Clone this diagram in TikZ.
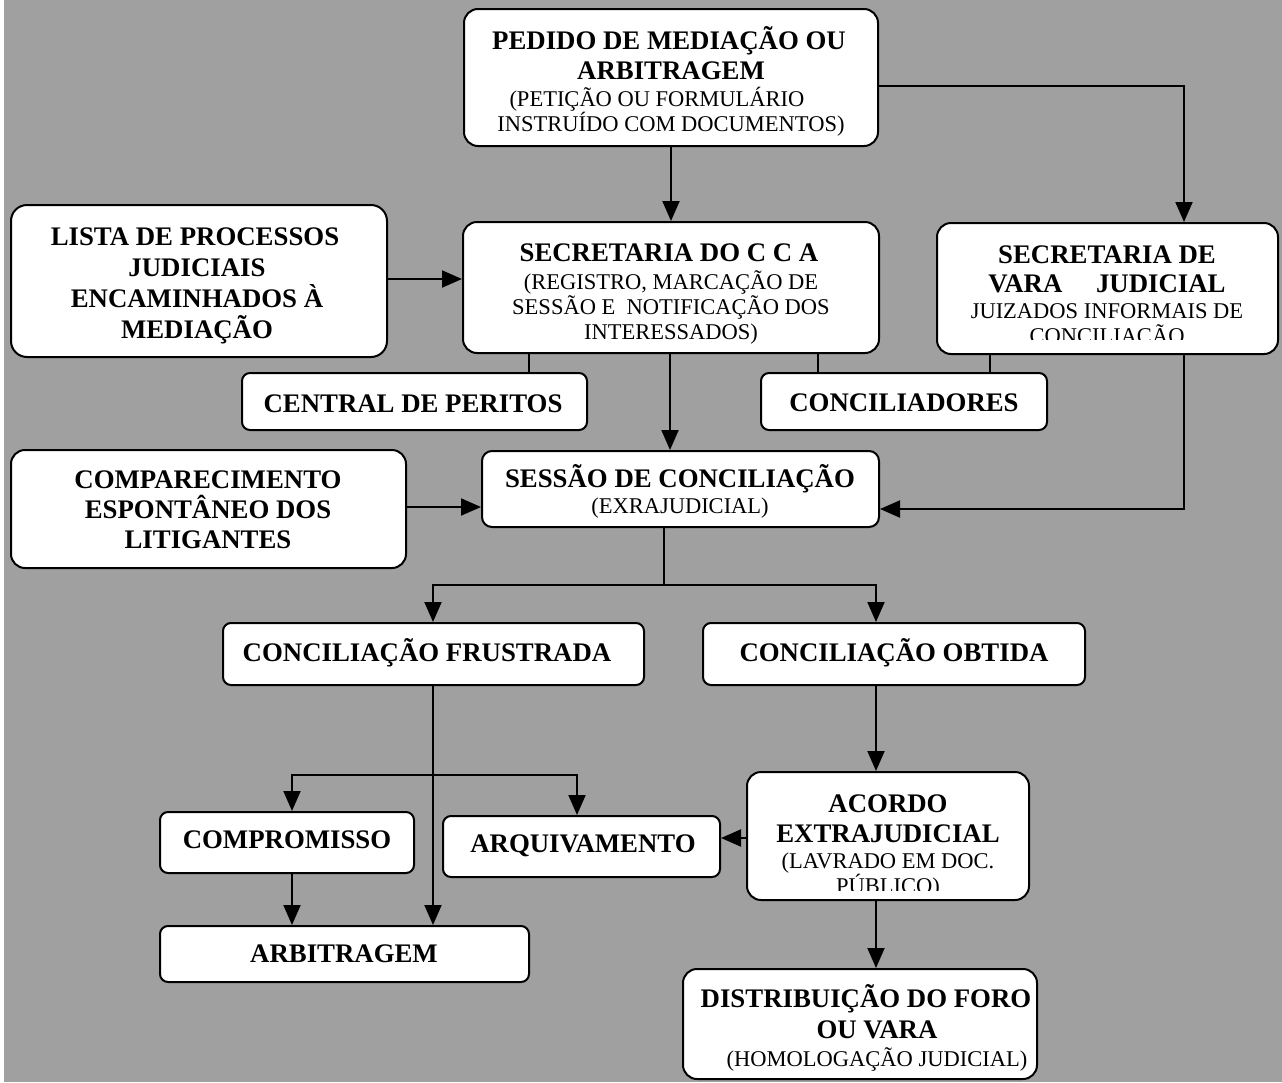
\documentclass[tikz,border=0pt]{standalone}
\usepackage{fontspec}
\setmainfont{Liberation Serif}
\usetikzlibrary{arrows.meta}
\definecolor{bggray}{RGB}{160,160,160}
\begin{document}
\begin{tikzpicture}[x=1pt,y=-1pt,
  box/.style={draw=black, line width=2pt, fill=white, rectangle, inner sep=0pt},
  tb/.style={anchor=base, inner sep=0pt, font=\fontsize{26.8}{31}\selectfont\bfseries},
  tn/.style={anchor=base, inner sep=0pt, font=\fontsize{22.5}{25.5}\selectfont},
  ln/.style={draw=black, line width=2pt},
  arr/.style={ln, -{Triangle[width=17pt,length=20pt]}}]
\path[use as bounding box] (0,0) rectangle (1282,1082);
\fill[bggray] (0,0) rectangle (1282,1082);
\fill[white] (0,0) rectangle (4,1082);

% boxes
\node[box, rounded corners=14pt, minimum width=414pt, minimum height=137pt] (pedido) at (671,77.5) {};
\node[box, rounded corners=16pt, minimum width=376pt, minimum height=152pt] (lista) at (199,281) {};
\node[box, rounded corners=14pt, minimum width=416pt, minimum height=131pt] (cca) at (671,287.5) {};
\node[box, rounded corners=14pt, minimum width=341pt, minimum height=131pt] (vara) at (1107.5,288.5) {};
\node[box, rounded corners=8pt, minimum width=345pt, minimum height=57pt] (central) at (414.5,401.5) {};
\node[box, rounded corners=8pt, minimum width=286pt, minimum height=57pt] (conc) at (904,401.5) {};
\node[box, rounded corners=14pt, minimum width=395pt, minimum height=118pt] (comp) at (208.5,509) {};
\node[box, rounded corners=10pt, minimum width=397pt, minimum height=76pt] (sessao) at (680.5,489) {};
\node[box, rounded corners=8pt, minimum width=421pt, minimum height=62pt] (frus) at (433.5,654) {};
\node[box, rounded corners=8pt, minimum width=382pt, minimum height=62pt] (obt) at (894,654) {};
\node[box, rounded corners=14pt, minimum width=282pt, minimum height=128pt] (acordo) at (888,836) {};
\node[box, rounded corners=8pt, minimum width=254pt, minimum height=61pt] (compro) at (287,842.5) {};
\node[box, rounded corners=8pt, minimum width=277pt, minimum height=61pt] (arq) at (581.5,846.5) {};
\node[box, rounded corners=8pt, minimum width=369pt, minimum height=56pt] (arb) at (344.5,954) {};
\node[box, rounded corners=14pt, minimum width=354pt, minimum height=110pt] (dist) at (860,1024) {};

% texts
\node[tb] (p1) at (669,49) {PEDIDO DE MEDIAÇÃO OU};
\node[tb] (p2) at (671,79) {ARBITRAGEM};
\node[tn] (p3) at (657,106) {(PETIÇÃO OU FORMULÁRIO};
\node[tn] (p4) at (671,131) {INSTRUÍDO COM DOCUMENTOS)};

\node[tb] (l1) at (195,245) {LISTA DE PROCESSOS};
\node[tb] (l2) at (197,276) {JUDICIAIS};
\node[tb] (l3) at (197,307) {ENCAMINHADOS À};
\node[tb] (l4) at (197,338) {MEDIAÇÃO};

\node[tb] (c1) at (669,261) {SECRETARIA DO C C A};
\node[tn] (c2) at (671,289) {(REGISTRO, MARCAÇÃO DE};
\node[tn] (c3) at (671,314) {SESSÃO E\ \ NOTIFICAÇÃO DOS};
\node[tn] (c4) at (671,339) {INTERESSADOS)};

\begin{scope}
\clip (939,225) rectangle (1276,339);
\node[tb] (v1) at (1107,263) {SECRETARIA DE};
\node[tb] (v2) at (1107,292) {VARA\hspace{27pt} JUDICIAL};
\node[tn] (v3) at (1107,318) {JUIZADOS INFORMAIS DE};
\node[tn] (v4) at (1107,343) {CONCILIAÇÃO};
\end{scope}

\node[tb] (ce1) at (413,412) {CENTRAL DE PERITOS};
\node[tb] (co1) at (904,411) {CONCILIADORES};

\node[tb] (m1) at (208,488) {COMPARECIMENTO};
\node[tb] (m2) at (208,518) {ESPONTÂNEO DOS};
\node[tb] (m3) at (208,548) {LITIGANTES};

\node[tb] (s1) at (680,487) {SESSÃO DE CONCILIAÇÃO};
\node[tn] (s2) at (680,513) {(EXRAJUDICIAL)};

\node[tb] (f1) at (427,661) {CONCILIAÇÃO FRUSTRADA};
\node[tb] (o1) at (894,661) {CONCILIAÇÃO OBTIDA};

\begin{scope}
\clip (749,774) rectangle (1027,890);
\node[tb] (a1) at (888,812) {ACORDO};
\node[tb] (a2) at (888,842) {EXTRAJUDICIAL};
\node[tn] (a3) at (888,868) {(LAVRADO EM DOC.};
\node[tn] (a4) at (888,893) {PÚBLICO)};
\end{scope}

\node[tb] (k1) at (287,848) {COMPROMISSO};
\node[tb] (q1) at (583,852) {ARQUIVAMENTO};
\node[tb] (b1) at (344,962) {ARBITRAGEM};

\node[tb] (d1) at (866,1007) {DISTRIBUIÇÃO DO FORO};
\node[tb] (d2) at (877,1038) {OU VARA};
\node[tn] (d3) at (877,1066) {(HOMOLOGAÇÃO JUDICIAL)};

% helper coordinates
\coordinate (xA) at (529,0);
\coordinate (xB) at (818,0);
\coordinate (xC) at (990,0);
\coordinate (xD) at (1184,0);
\coordinate (xE) at (433,0);
\coordinate (xF) at (292,0);
\coordinate (xG) at (577,0);
\coordinate (xH) at (876,0);
\coordinate (xI) at (664,0);
\coordinate (xJ) at (670,0);
\coordinate (yA) at (0,86);
\coordinate (yB) at (0,279);
\coordinate (yC) at (0,509);
\coordinate (yD) at (0,507);
\coordinate (yE) at (0,585);
\coordinate (yF) at (0,775);
\coordinate (yG) at (0,838);
\coordinate (split) at (xI |- yE);
\coordinate (branch) at (xE |- yF);

% connectors
\draw[arr] (pedido.south) -- (cca.north);
\draw[arr] (pedido.east |- yA) -| (vara.north -| xD);
\draw[arr] (lista.east |- yB) -- (cca.west |- yB);
\draw[ln] (cca.south -| xA) -- (central.north -| xA);
\draw[ln] (cca.south -| xB) -- (conc.north -| xB);
\draw[ln] (vara.south -| xC) -- (conc.north -| xC);
\draw[arr] (cca.south -| xJ) -- (sessao.north -| xJ);
\draw[arr] (vara.south -| xD) |- (sessao.east |- yC);
\draw[arr] (comp.east |- yD) -- (sessao.west |- yD);
\draw[ln] (sessao.south -| xI) -- (split);
\draw[arr] (split) -| (frus.north -| xE);
\draw[arr] (split) -| (obt.north -| xH);
\draw[arr] (frus.south -| xE) -- (arb.north -| xE);
\draw[arr] (branch) -| (compro.north -| xF);
\draw[arr] (branch) -| (arq.north -| xG);
\draw[arr] (obt.south -| xH) -- (acordo.north -| xH);
\draw[arr] (acordo.west |- yG) -- (arq.east |- yG);
\draw[arr] (compro.south -| xF) -- (arb.north -| xF);
\draw[arr] (acordo.south -| xH) -- (dist.north -| xH);
\end{tikzpicture}
\end{document}
